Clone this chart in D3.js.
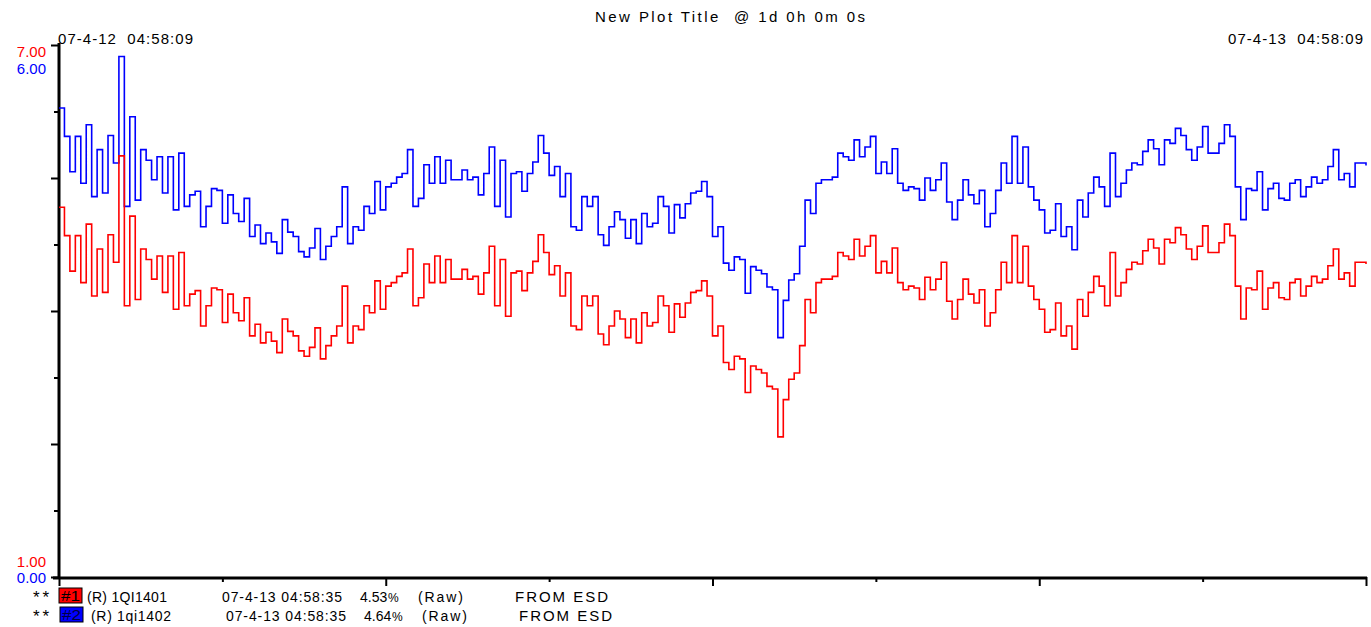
<!DOCTYPE html>
<meta charset="utf-8">
<style>

    body {
        margin: 0;
        background: #fff;
    }

    text {
        font-family: "Liberation Sans", Arial, sans-serif;
        font-size: 15px;
        white-space: pre;
    }

    .axis path,
    .axis line {
        stroke: #000;
    }

</style>
<svg width="1371" height="627"></svg>
<script src="https://d3js.org/d3.v7.min.js"></script>
<script>
    // sampled every 6 minutes over one day, starting 07-4-12 04:58:09
    var startTime = new Date(2007, 3, 12, 4, 58, 9),
        sampleMinutes = 6;

    var plotTitle = "New Plot Title  @ 1d 0h 0m 0s";
    var tagNames = ["(R) 1QI1401", "(R) 1qi1402"];
    var lastTimes = ["07-4-13 04:58:35", "07-4-13 04:58:35"];
    var lastValues = [4.53, 4.64];
    var sources = ["FROM ESD", "FROM ESD"];
    var seriesColors = ["#ff0000", "#0000ff"];

    // #1 red trace, plotted on a 1..7 scale
    var redValues = [
        5.17, 4.85, 4.45, 4.85, 4.32, 4.98, 4.17, 4.70, 4.21, 4.86,
        4.55, 5.75, 4.06, 5.07, 4.13, 4.70, 4.58, 4.36, 4.62, 4.21,
        4.62, 4.02, 4.66, 4.06, 4.19, 4.23, 3.83, 4.06, 4.26, 4.24,
        3.87, 4.19, 3.98, 3.89, 4.15, 3.72, 3.85, 3.64, 3.76, 3.66,
        3.53, 3.91, 3.77, 3.72, 3.55, 3.49, 3.59, 3.81, 3.46, 3.61,
        3.72, 3.83, 4.28, 3.64, 3.83, 3.79, 4.06, 3.98, 4.34, 4.02,
        4.28, 4.32, 4.39, 4.43, 4.70, 4.06, 4.15, 4.53, 4.32, 4.62,
        4.32, 4.58, 4.36, 4.36, 4.47, 4.36, 4.39, 4.19, 4.43, 4.73,
        4.06, 4.58, 3.94, 4.43, 4.45, 4.23, 4.43, 4.56, 4.86, 4.66,
        4.41, 4.51, 4.17, 4.43, 3.83, 3.79, 4.17, 4.06, 4.17, 3.74,
        3.62, 3.83, 4.00, 3.91, 3.70, 3.91, 3.64, 3.98, 3.83, 3.87,
        4.17, 4.06, 3.76, 4.08, 3.93, 4.09, 4.21, 4.23, 4.34, 4.17,
        3.72, 3.83, 3.42, 3.34, 3.49, 3.46, 3.08, 3.38, 3.34, 3.30,
        3.15, 3.12, 2.58, 3.00, 3.23, 3.30, 3.61, 4.13, 3.98, 4.32,
        4.36, 4.36, 4.39, 4.66, 4.62, 4.58, 4.81, 4.62, 4.73, 4.85,
        4.43, 4.56, 4.43, 4.71, 4.32, 4.24, 4.28, 4.26, 4.13, 4.38,
        4.24, 4.36, 4.55, 4.11, 3.91, 4.13, 4.36, 4.19, 4.09, 4.24,
        3.83, 3.98, 4.24, 4.55, 4.32, 4.85, 4.32, 4.73, 4.28, 4.13,
        4.02, 3.76, 3.79, 4.09, 3.72, 3.83, 3.57, 4.13, 3.94, 4.21,
        4.39, 4.28, 4.06, 4.66, 4.17, 4.32, 4.47, 4.55, 4.53, 4.68,
        4.81, 4.71, 4.53, 4.81, 4.77, 4.94, 4.86, 4.70, 4.58, 4.73,
        4.96, 4.66, 4.66, 4.77, 4.98, 4.85, 4.28, 3.91, 4.26, 4.24,
        4.45, 4.02, 4.26, 4.32, 4.15, 4.13, 4.32, 4.36, 4.17, 4.28,
        4.39, 4.32, 4.36, 4.51, 4.70, 4.36, 4.43, 4.28, 4.55, 4.55, 4.53
    ];

    // #2 blue trace, plotted on a 0..6 scale
    var blueValues = [
        5.29, 4.97, 4.57, 4.97, 4.44, 5.10, 4.29, 4.82, 4.33, 4.98,
        4.67, 5.87, 4.18, 5.19, 4.25, 4.82, 4.70, 4.48, 4.74, 4.33,
        4.74, 4.14, 4.78, 4.18, 4.31, 4.35, 3.95, 4.18, 4.38, 4.36,
        3.99, 4.31, 4.10, 4.01, 4.27, 3.84, 3.97, 3.76, 3.88, 3.78,
        3.65, 4.03, 3.89, 3.84, 3.67, 3.61, 3.71, 3.93, 3.58, 3.73,
        3.84, 3.95, 4.40, 3.76, 3.95, 3.91, 4.18, 4.10, 4.46, 4.14,
        4.40, 4.44, 4.51, 4.55, 4.82, 4.18, 4.27, 4.65, 4.44, 4.74,
        4.44, 4.70, 4.48, 4.48, 4.59, 4.48, 4.51, 4.31, 4.55, 4.85,
        4.18, 4.70, 4.06, 4.55, 4.57, 4.35, 4.55, 4.68, 4.98, 4.78,
        4.53, 4.63, 4.29, 4.55, 3.95, 3.91, 4.29, 4.18, 4.29, 3.86,
        3.74, 3.95, 4.12, 4.03, 3.82, 4.03, 3.76, 4.10, 3.95, 3.99,
        4.29, 4.18, 3.88, 4.20, 4.05, 4.21, 4.33, 4.35, 4.46, 4.29,
        3.84, 3.95, 3.54, 3.46, 3.61, 3.58, 3.20, 3.50, 3.46, 3.42,
        3.27, 3.24, 2.70, 3.12, 3.35, 3.42, 3.73, 4.25, 4.10, 4.44,
        4.48, 4.48, 4.51, 4.78, 4.74, 4.70, 4.93, 4.74, 4.85, 4.97,
        4.55, 4.68, 4.55, 4.83, 4.44, 4.36, 4.40, 4.38, 4.25, 4.50,
        4.36, 4.48, 4.67, 4.23, 4.03, 4.25, 4.48, 4.31, 4.21, 4.36,
        3.95, 4.10, 4.36, 4.67, 4.44, 4.97, 4.44, 4.85, 4.40, 4.25,
        4.14, 3.88, 3.91, 4.21, 3.84, 3.95, 3.69, 4.25, 4.06, 4.33,
        4.51, 4.40, 4.18, 4.78, 4.29, 4.44, 4.59, 4.67, 4.65, 4.80,
        4.93, 4.83, 4.65, 4.93, 4.89, 5.06, 4.98, 4.82, 4.70, 4.85,
        5.08, 4.78, 4.78, 4.89, 5.10, 4.97, 4.40, 4.03, 4.38, 4.36,
        4.57, 4.14, 4.38, 4.44, 4.27, 4.25, 4.44, 4.48, 4.29, 4.40,
        4.51, 4.44, 4.48, 4.63, 4.82, 4.48, 4.55, 4.40, 4.67, 4.67, 4.64
    ];

    var redDomain = [1, 7],
        blueDomain = [0, 6];

    var svg = d3.select("svg"),
        plotLeft = 59,
        plotRight = 1366,
        plotTop = 45,
        plotBottom = 577;

    var endTime = d3.timeDay.offset(startTime, 1);

    var x = d3.scaleTime()
        .domain([startTime, endTime])
        .range([plotLeft, plotRight]);

    var yRed = d3.scaleLinear().domain(redDomain).range([plotBottom, plotTop]);
    var yBlue = d3.scaleLinear().domain(blueDomain).range([plotBottom, plotTop]);

    function sampleTime(i) {
        return d3.timeMinute.offset(startTime, i * sampleMinutes);
    }

    // ticks: 8 divisions each way, every other one long
    var xTicks = d3.range(9).map(function (k) {
        return d3.timeHour.offset(startTime, 3 * k);
    });
    var yTicks = d3.range(9).map(function (k) {
        return redDomain[0] + k * (redDomain[1] - redDomain[0]) / 8;
    });

    function odd(d, i) { return i % 2 === 1; }
    function even(d, i) { return i % 2 === 0; }

    function tickAxis(axis, translate) {
        svg.append("g")
            .attr("class", "axis")
            .attr("transform", translate)
            .call(axis.tickFormat("").tickSizeOuter(0))
            .call(function (g) { g.select(".domain").remove(); })
            .selectAll("line").attr("stroke-width", 2);
    }

    // x axis
    tickAxis(d3.axisBottom(x).tickValues(xTicks.filter(odd)).tickSize(5), "translate(0," + plotBottom + ")");
    tickAxis(d3.axisBottom(x).tickValues(xTicks.filter(even)).tickSize(9), "translate(0," + plotBottom + ")");

    // y axis
    tickAxis(d3.axisLeft(yRed).tickValues(yTicks.filter(odd)).tickSize(5), "translate(" + plotLeft + ",0)");
    tickAxis(d3.axisLeft(yRed).tickValues(yTicks.filter(even)).tickSize(8), "translate(" + plotLeft + ",0)");

    svg.append("line")
        .attr("x1", plotLeft).attr("x2", plotLeft)
        .attr("y1", plotTop - 2).attr("y2", plotBottom + 2)
        .attr("stroke", "#000").attr("stroke-width", 3);

    svg.append("line")
        .attr("x1", plotLeft - 6).attr("x2", plotRight + 1)
        .attr("y1", plotBottom + 1).attr("y2", plotBottom + 1)
        .attr("stroke", "#000").attr("stroke-width", 3);

    // y labels: top and bottom of each scale
    var fmt = d3.format(".2f");
    var yLabels = [
        {v: redDomain[1], y: yRed(redDomain[1]) + 12, c: 0},
        {v: blueDomain[1], y: yBlue(blueDomain[1]) + 29, c: 1},
        {v: redDomain[0], y: yRed(redDomain[0]) - 10, c: 0},
        {v: blueDomain[0], y: yBlue(blueDomain[0]) + 6, c: 1}
    ];
    svg.selectAll(".ylabel")
        .data(yLabels)
        .enter().append("text")
        .attr("class", "ylabel")
        .attr("x", 46)
        .attr("y", function (d) { return d.y; })
        .attr("text-anchor", "end")
        .attr("fill", function (d) { return seriesColors[d.c]; })
        .text(function (d) { return fmt(d.v); });

    // title and time range
    var timeFmt = d3.timeFormat("%y-%-m-%d  %H:%M:%S");

    svg.append("text").attr("x", 595).attr("y", 22)
        .attr("textLength", 270).attr("lengthAdjust", "spacing")
        .text(plotTitle);

    svg.append("text").attr("x", 58).attr("y", 44)
        .attr("textLength", 135).attr("lengthAdjust", "spacing")
        .text(timeFmt(startTime));

    svg.append("text").attr("x", 1228).attr("y", 44)
        .attr("textLength", 135).attr("lengthAdjust", "spacing")
        .text(timeFmt(endTime));

    // traces
    var lineBlue = d3.line()
        .x(function (d, i) { return x(sampleTime(i)); })
        .y(function (d) { return yBlue(d); })
        .curve(d3.curveStepAfter);

    var lineRed = d3.line()
        .x(function (d, i) { return x(sampleTime(i)); })
        .y(function (d) { return yRed(d); })
        .curve(d3.curveStepAfter);

    svg.append("path")
        .datum(blueValues)
        .attr("fill", "none")
        .attr("stroke", seriesColors[1])
        .attr("stroke-width", 1.6)
        .attr("d", lineBlue);

    svg.append("path")
        .datum(redValues)
        .attr("fill", "none")
        .attr("stroke", seriesColors[0])
        .attr("stroke-width", 1.6)
        .attr("d", lineRed);

    // legend rows
    var rowY = [602, 621],
        rowShift = [0, 4];

    var row = svg.selectAll(".legend-row")
        .data(tagNames)
        .enter().append("g")
        .attr("class", "legend-row")
        .attr("transform", function (d, i) { return "translate(" + rowShift[i] + "," + rowY[i] + ")"; });

    row.append("text")
        .attr("x", function (d, i) { return 33 - rowShift[i]; })
        .attr("y", 1)
        .attr("textLength", 16).attr("lengthAdjust", "spacing")
        .style("font-size", "17px")
        .text("**");

    row.append("rect")
        .attr("x", function (d, i) { return 59 - rowShift[i] * 0.75; })
        .attr("y", -14).attr("width", 23).attr("height", 15)
        .attr("fill", function (d, i) { return seriesColors[i]; })
        .attr("stroke", "#000").attr("stroke-width", 1);

    row.append("text")
        .attr("x", function (d, i) { return 61 - rowShift[i] * 0.75; })
        .attr("y", -1)
        .attr("textLength", 19).attr("lengthAdjust", "spacingAndGlyphs")
        .attr("fill", function (d, i) { return i === 0 ? "#000" : "#000040"; })
        .text(function (d, i) { return "#" + (i + 1); });

    row.append("text").attr("x", 87).attr("y", 0)
        .attr("textLength", 80).attr("lengthAdjust", "spacing")
        .style("font-size", "14px")
        .text(function (d) { return d; });

    row.append("text").attr("x", 222).attr("y", 0)
        .attr("textLength", 120).attr("lengthAdjust", "spacing")
        .style("font-size", "14px")
        .text(function (d, i) { return lastTimes[i]; });

    row.append("text").attr("x", 360).attr("y", 0)
        .style("font-size", "14px")
        .text(function (d, i) { return fmt(lastValues[i]); });

    row.append("text").attr("x", 388).attr("y", 0)
        .style("font-size", "12px")
        .text("%");

    row.append("text").attr("x", 418).attr("y", 0)
        .attr("textLength", 45).attr("lengthAdjust", "spacing")
        .style("font-size", "14px")
        .text("(Raw)");

    row.append("text").attr("x", 515).attr("y", 0)
        .attr("textLength", 93).attr("lengthAdjust", "spacing")
        .text(function (d, i) { return sources[i]; });

</script>
